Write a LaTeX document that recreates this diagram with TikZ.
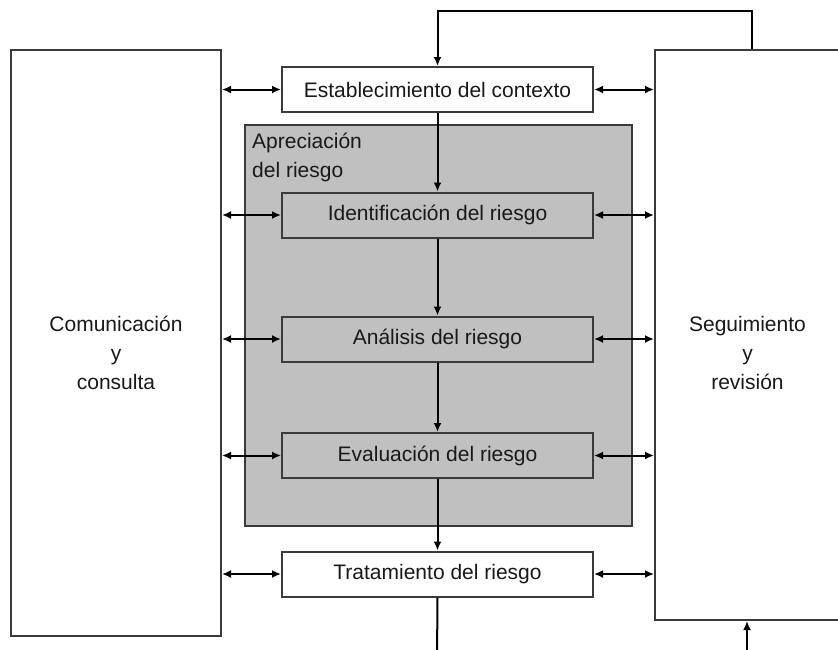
\documentclass[tikz,border=0pt]{standalone}
\usepackage{fontspec}
\setmainfont{Liberation Sans}
\usetikzlibrary{arrows.meta,positioning}
\definecolor{boxgray}{HTML}{C0C0C0}
\definecolor{edge}{HTML}{3A3A3A}
\begin{document}
\begin{tikzpicture}[x=1pt,y=-1pt,
	every node/.style={font=\fontsize{21}{29}\selectfont, text=black!90},
	box/.style={draw=edge, line width=2pt, inner sep=0pt, minimum width=311pt, minimum height=45pt},
	side/.style={draw=edge, line width=2pt, fill=white, inner sep=0pt},
	flow/.style={line width=2pt, -{Latex[length=9pt,width=8pt]}},
	link/.style={line width=2pt, {Latex[length=9pt,width=8pt]}-{Latex[length=9pt,width=8pt]}}]
	\useasboundingbox (0,0) rectangle (838,649);
	\clip (0,0) rectangle (838,649);
	\fill[white] (0,0) rectangle (838,649);
	
	\node[side, minimum width=210pt, minimum height=586pt, align=center] (com) at (116,343) {};
	\node[align=center] at ([yshift=-10pt]com.center) {Comunicación\\y\\consulta};
	\node[side, minimum width=185pt, minimum height=570pt] (seg) at (747.5,335) {};
	\node[align=center] at ([yshift=-18pt]seg.center) {Seguimiento\\y\\revisión};
	
	\node[draw=edge, line width=2pt, fill=boxgray, inner sep=0pt, minimum width=387pt, minimum height=401pt] (apr) at (438.5,325.5) {};
	\node[anchor=north west, align=left, inner sep=0pt] at (252,133) {Apreciación\\del riesgo};
	
	\node[box, fill=white] (est) at (437.5,89.5) {Establecimiento del contexto};
	\node[box, fill=boxgray] (ide) at (437.5,215) {Identificación del riesgo};
	\node[box, fill=boxgray] (ana) at (437.5,339) {Análisis del riesgo};
	\node[box, fill=boxgray] (eva) at (437.5,455.5) {Evaluación del riesgo};
	\node[box, fill=white] (tra) at (437.5,574) {Tratamiento del riesgo};
	
	\draw[flow] (est) -- (ide);
	\draw[flow] (ide) -- (ana);
	\draw[flow] (ana) -- (eva);
	\draw[flow] (eva) -- (tra);
	
	\foreach \b in {est,ide,ana,eva,tra} {
		\draw[link] (com.east |- \b.west) -- (\b.west);
		\draw[link] (\b.east) -- (seg.west |- \b.east);
	}
	
	% feedback loop
	\coordinate (top) at (752,11);
	\coordinate (outA) at (437,660);
	\coordinate (outB) at (747,660);
	\draw[flow] (top |- seg.north) -- (top) -| (est.north);
	\draw[line width=2pt] (tra.south) -- (outA);
	\draw[flow] (outB) -- (outB |- seg.south);
\end{tikzpicture}
\end{document}
